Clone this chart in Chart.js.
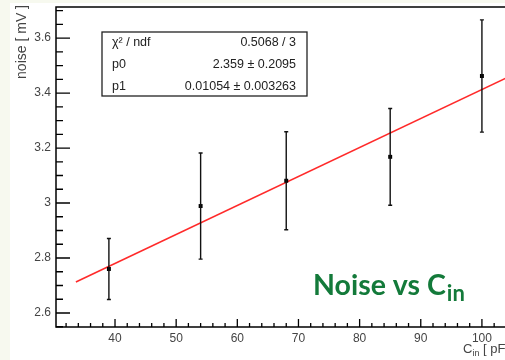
<!DOCTYPE html>
<html>
<head>
<meta charset="utf-8">
<script src="https://cdn.jsdelivr.net/npm/chart.js@4"></script>
<style>
  html, body { margin: 0; padding: 0; overflow: hidden; background: #f7f9ef; width: 505px; height: 360px; }
  #wrap { position: absolute; left: 10px; top: 3px; width: 520px; height: 357px; background: #ffffff; }
</style>
</head>
<body>
<div id="wrap"><canvas id="c" width="520" height="357"></canvas></div>
<script>
// measured points: input capacitance [pF] vs noise [mV]
var capacitance = [39, 54, 68, 85, 100];
var noise = [2.76, 2.989, 3.081, 3.168, 3.462];
var noiseErr = [0.111, 0.193, 0.178, 0.176, 0.204];

// fitted line endpoints as drawn
var fitX = [33.6, 105.9];
var fitY = [2.713, 3.475];

var statsRows = [
    ['\u03c7\u00b2 / ndf', '0.5068 / 3'],
    ['p0', '2.359 \u00b1 0.2095'],
    ['p1', '0.01054 \u00b1 0.003263']
];

var xMajor = [40, 50, 60, 70, 80, 90, 100];
var yMajor = [2.6, 2.8, 3.0, 3.2, 3.4, 3.6];

var FONT = '"Liberation Sans", Arial, sans-serif';

function pts(xs, ys) {
    var out = [];
    for (var i = 0; i < xs.length; i++) out.push({x: xs[i], y: ys[i]});
    return out;
}

function noPad(s) {
    s.paddingTop = 0;
    s.paddingBottom = 0;
    s.paddingLeft = 0;
    s.paddingRight = 0;
}

var rootStyle = {
    id: 'rootStyle',
    afterDatasetsDraw: function(chart) {
        var ctx = chart.ctx;
        var xs = chart.scales.x, ys = chart.scales.y;
        var a = chart.chartArea;
        ctx.save();

        // error bars
        ctx.strokeStyle = '#111';
        ctx.lineWidth = 1.4;
        for (var i = 0; i < capacitance.length; i++) {
            var px = xs.getPixelForValue(capacitance[i]);
            var top = ys.getPixelForValue(noise[i] + noiseErr[i]);
            var bot = ys.getPixelForValue(noise[i] - noiseErr[i]);
            ctx.beginPath();
            ctx.moveTo(px, top); ctx.lineTo(px, bot);
            ctx.moveTo(px - 2, top); ctx.lineTo(px + 2, top);
            ctx.moveTo(px - 2, bot); ctx.lineTo(px + 2, bot);
            ctx.stroke();
        }

        // frame (right side falls outside the window)
        ctx.strokeStyle = '#000';
        ctx.lineWidth = 1.5;
        ctx.beginPath();
        ctx.moveTo(a.right + 20, a.top);
        ctx.lineTo(a.left, a.top);
        ctx.lineTo(a.left, a.bottom);
        ctx.lineTo(a.right + 20, a.bottom);
        ctx.stroke();

        // y ticks (inward)
        ctx.lineWidth = 1.3;
        ctx.beginPath();
        for (var v = 2.55; v <= ys.max + 1e-9; v += 0.05) {
            var py = ys.getPixelForValue(v);
            var major = Math.abs(v * 5 - Math.round(v * 5)) < 1e-6;
            ctx.moveTo(a.left, py);
            ctx.lineTo(a.left + (major ? 14 : 7), py);
        }
        // x ticks (inward)
        for (var w = 32; w <= xs.max; w += 2) {
            var qx = xs.getPixelForValue(w);
            var maj = w % 10 === 0;
            ctx.moveTo(qx, a.bottom);
            ctx.lineTo(qx, a.bottom - (maj ? 8 : 4));
        }
        ctx.stroke();

        // stats box
        var bx = a.left + 46, by = a.top + 25, bw = 205, bh = 64;
        ctx.fillStyle = '#fff';
        ctx.fillRect(bx, by, bw, bh);
        ctx.strokeStyle = '#222';
        ctx.lineWidth = 1.3;
        ctx.strokeRect(bx, by, bw, bh);
        ctx.fillStyle = '#222';
        ctx.font = '12.5px ' + FONT;
        ctx.textBaseline = 'middle';
        for (var r = 0; r < statsRows.length; r++) {
            var ry = by + 11 + r * 22;
            ctx.textAlign = 'left';
            ctx.fillText(statsRows[r][0], bx + 10, ry);
            ctx.textAlign = 'right';
            ctx.fillText(statsRows[r][1], bx + bw - 11, ry);
        }

        // y axis title
        ctx.save();
        ctx.translate(12, 2);
        ctx.rotate(-Math.PI / 2);
        ctx.textAlign = 'right';
        ctx.textBaseline = 'middle';
        ctx.fillStyle = '#444';
        ctx.font = '14px ' + FONT;
        ctx.fillText('noise [ mV ]', 0, 0);
        ctx.restore();

        // x axis title C_in [ pF ]
        ctx.fillStyle = '#444';
        ctx.textBaseline = 'alphabetic';
        ctx.textAlign = 'left';
        var tx = 453, tb = 350;
        ctx.font = '13px ' + FONT;
        ctx.fillText('C', tx, tb);
        tx += ctx.measureText('C').width;
        ctx.font = '9px ' + FONT;
        ctx.fillText('in', tx, tb + 3);
        tx += ctx.measureText('in').width;
        ctx.font = '13px ' + FONT;
        ctx.fillText(' [ pF ]', tx, tb);

        // annotation
        ctx.fillStyle = '#137a3a';
        var gx = 303, gb = 292;
        ctx.font = 'bold 28.5px Lato, "Open Sans", sans-serif';
        ctx.fillText('Noise vs C', gx, gb);
        gx += ctx.measureText('Noise vs C').width;
        ctx.font = 'bold 22px Lato, "Open Sans", sans-serif';
        ctx.fillText('in', gx + 1, gb + 6);

        ctx.restore();
    }
};

var chart = new Chart(document.getElementById('c').getContext('2d'), {
    type: 'scatter',
    data: {
        datasets: [
            {
                data: pts(capacitance, noise),
                backgroundColor: '#000',
                borderColor: '#000',
                pointStyle: 'rect',
                pointRadius: 2.8,
                borderWidth: 0
            },
            {
                type: 'line',
                data: pts(fitX, fitY),
                borderColor: '#ff2a2a',
                borderWidth: 1.6,
                pointRadius: 0,
                fill: false
            }
        ]
    },
    options: {
        responsive: false,
        animation: false,
        devicePixelRatio: 1,
        layout: { padding: { left: 0, right: 12, top: 4, bottom: 0 } },
        plugins: {
            legend: { display: false },
            tooltip: { enabled: false }
        },
        scales: {
            x: {
                type: 'linear',
                min: 30.35,
                max: 105.9,
                afterFit: function(s) { s.height = 33; noPad(s); },
                afterBuildTicks: function(s) { s.ticks = xMajor.map(function(v) { return {value: v}; }); },
                grid: { display: false, drawTicks: false },
                border: { display: false },
                ticks: {
                    font: { family: FONT, size: 12 },
                    color: '#444',
                    padding: 4,
                    maxRotation: 0
                }
            },
            y: {
                type: 'linear',
                min: 2.549,
                max: 3.713,
                afterFit: function(s) { s.width = 46; noPad(s); },
                afterBuildTicks: function(s) { s.ticks = yMajor.map(function(v) { return {value: v}; }); },
                grid: { display: false, drawTicks: false },
                border: { display: false },
                ticks: {
                    font: { family: FONT, size: 12 },
                    color: '#444',
                    padding: 5,
                    callback: function(v) { return Math.abs(v - 3) < 1e-9 ? '3' : v.toFixed(1); }
                }
            }
        }
    },
    plugins: [rootStyle]
});
</script>
</body>
</html>
